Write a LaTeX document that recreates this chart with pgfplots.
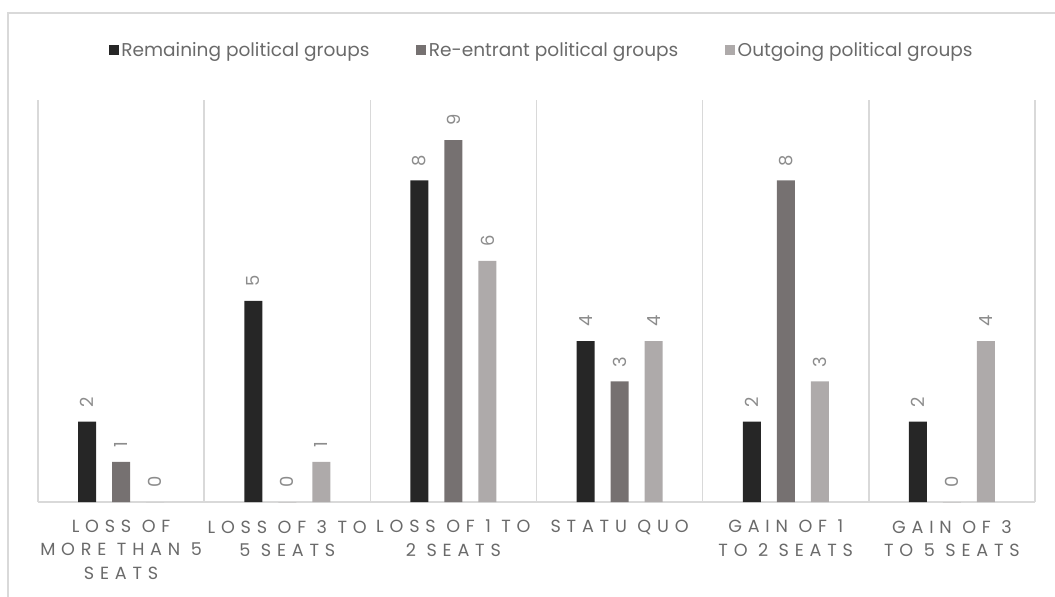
\documentclass[border=0pt]{standalone}
\usepackage{fontspec}
\setmainfont{Poppins}
\newfontfamily\capsfont[LetterSpace=33]{Poppins}
\usepackage{pgfplots}
\pgfplotsset{compat=1.18}

\definecolor{barA}{HTML}{262626}
\definecolor{barB}{HTML}{767171}
\definecolor{barC}{HTML}{AEAAAA}
\definecolor{gridcol}{HTML}{D9D9D9}
\definecolor{txtcol}{HTML}{6A6A6A}
\definecolor{valcol}{HTML}{8C8C8C}

\begin{document}
\begin{tikzpicture}
% canvas: 1px = 0.75pt
\useasboundingbox (0,0) rectangle (791.25pt,447pt);
% outer chart frame
\draw[gridcol, line width=1.5pt] (6pt,-2pt) -- (6pt,437.25pt) -- (795pt,437.25pt);
\begin{axis}[
  at={(28.5pt,70.5pt)}, anchor=south west,
  scale only axis,
  width=747.75pt, height=301.5pt,
  ybar=12pt, bar width=13.5pt,
  xmin=-0.5, xmax=5.5, ymin=0, ymax=10,
  axis y line=none,
  axis x line=bottom,
  x axis line style={-, draw=gridcol, line width=1.2pt},
  xtick={0,1,2,3,4,5},
  xticklabels={{LOSS OF\\MORE THAN 5\\SEATS},{LOSS OF 3 TO\\5 SEATS},{LOSS OF 1 TO\\2 SEATS},{STATU QUO},{GAIN OF 1\\TO 2 SEATS},{GAIN OF 3\\TO 5 SEATS}},
  xticklabel style={align=center, text=txtcol, font=\capsfont\fontsize{13.2}{17.6}\selectfont, yshift=-10pt},
  major tick length=0pt,
  minor xtick={-0.5,0.5,...,5.5},
  minor tick length=0pt,
  xminorgrids,
  minor grid style={draw=gridcol, line width=1.2pt},
  /pgf/number format/assume math mode=true,
  nodes near coords,
  every node near coord/.append style={rotate=90, anchor=west, inner xsep=10.5pt, font=\fontsize{13.5}{15}\selectfont, text=valcol},
  legend columns=3,
  legend style={at={(0.5055,1.124)}, anchor=center, draw=none, fill=none,
    font=\fontsize{13.9}{16}\selectfont, text=txtcol,
    /tikz/every even column/.append style={column sep=33pt}},
  legend image code/.code={\fill[#1] (0pt,-3.75pt) rectangle (7.5pt,3.75pt);},
]
\addplot[fill=barA, draw=none] coordinates {(0,2) (1,5) (2,8) (3,4) (4,2) (5,2)};
\addplot[fill=barB, draw=none] coordinates {(0,1) (1,0) (2,9) (3,3) (4,8) (5,0)};
\addplot[fill=barC, draw=none] coordinates {(0,0) (1,1) (2,6) (3,4) (4,3) (5,4)};
\legend{Remaining political groups, Re-entrant political groups, Outgoing political groups}
\end{axis}
\end{tikzpicture}
\end{document}
